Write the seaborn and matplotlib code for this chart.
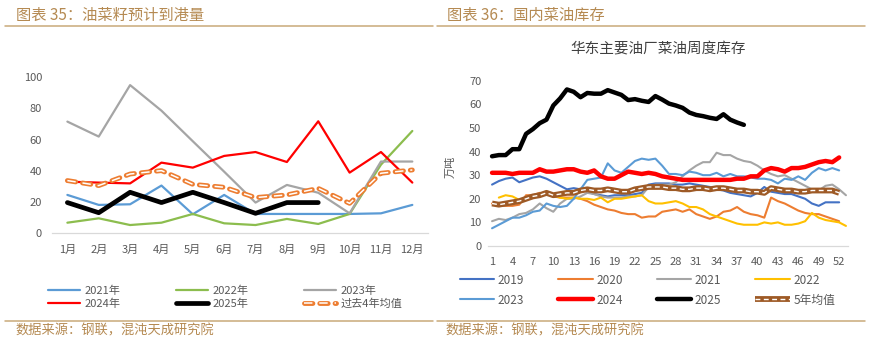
import numpy as np
import matplotlib
matplotlib.use("Agg")
import matplotlib.pyplot as plt
import matplotlib.patheffects as pe
from matplotlib.lines import Line2D
import seaborn as sns

nan = np.nan

# ---------------- left chart data: 油菜籽预计到港量 ----------------
months = ["1月", "2月", "3月", "4月", "5月", "6月", "7月", "8月", "9月", "10月", "11月", "12月"]
arr_2021 = [24.6, 18.2, 18.6, 30.6, 12.2, 24.6, 12.4, 12.4, 12.4, 12.4, 12.8, 18.2]
arr_2022 = [6.8, 9.6, 5.3, 6.8, 12.4, 6.4, 5.3, 9.2, 6.0, 12.4, 44.0, 65.6]
arr_2023 = [71.6, 62.0, 95.0, 78.6, 59.0, 39.5, 19.7, 31.0, 26.0, 12.8, 46.0, 46.0]
arr_2024 = [33.1, 32.5, 32.0, 45.3, 42.1, 49.6, 52.1, 45.7, 71.8, 38.9, 52.1, 32.5]
arr_2025 = [19.7, 13.2, 26.3, 19.7, 26.3, 19.7, 12.8, 19.7, 19.7, nan, nan, nan]
arr_avg4 = [33.8, 30.6, 38.0, 40.2, 31.4, 29.5, 22.9, 24.6, 28.8, 19.2, 38.5, 40.6]

# ---------------- right chart data: 华东主要油厂菜油周度库存 (万吨) ----------------
week_tick_labels = [str(w) for w in range(1, 53, 3)]
inv_2019 = [26, 27.5, 28.5, 29, 27, 28, 29, 29.5, 28.5, 27,
            25.5, 24, 24.5, 24, 23, 22, 21.5, 21, 21.5, 21.5,
            21.5, 22, 22.5, 26, 26.5, 26.5, 26.5, 26, 26, 26.5,
            26, 25.5, 25, 24, 23.5, 22.5, 22, 21.5, 21, 22.5,
            25, 23, 22.5, 22, 22, 21, 20, 18, 17, 18.5,
            18.5, 18.5, nan]
inv_2020 = [18, 17, 17, 17, 17.5, 21.5, 21.5, 22.5, 22, 21,
            20.5, 20.5, 20.5, 20, 19, 17.5, 16.5, 15.5, 15, 14,
            13.5, 13.5, 12, 12.5, 12.5, 14.5, 15, 15.5, 14.5, 15.5,
            13.5, 12.5, 11.5, 12.5, 14.5, 15, 16.5, 14.5, 13.5, 13,
            12, 20.5, 19, 18, 16.5, 15, 14, 13.5, 13.5, 12.5,
            11.5, 10.5, nan]
inv_2021 = [10.5, 11.5, 11, 12, 13.5, 14, 15.5, 18, 16, 14.5,
            18, 20, 20, 21, 22.5, 22, 21, 20.5, 20.5, 20.5,
            21, 21, 21.5, 25, 26, 26, 26, 27, 29.5, 32,
            34, 35.5, 35.5, 39.5, 38.5, 38.5, 37, 36, 35.5, 34,
            32, 30.5, 29.5, 30, 28.5, 27, 25.5, 24, 23.5, 25.5,
            26, 24, 21.5]
inv_2022 = [nan, 20.5, 21.5, 21, 19.5, 20.5, 21.5, 21.5, 23, 21.5,
            20.5, 20, 20.5, 20, 20, 19.5, 20.5, 18.5, 20, 20,
            20.5, 21, 21.5, 19, 18, 18, 18.5, 19, 18, 16.5,
            16.5, 15.5, 13.5, 12.5, 11.5, 10.5, 9.5, 9, 9, 9,
            10, 9.5, 10, 9, 9, 9.5, 10.5, 14, 12, 11,
            10.5, 10, 8.5]
inv_2023 = [7.5, 9, 10.5, 12, 12, 13, 14.5, 15, 18, 17,
            16.5, 17, 20, 24, 28, 28.5, 29, 35, 32, 31,
            33.5, 36, 37, 36.5, 37, 34, 30.5, 30.5, 30, 31.5,
            31, 30, 30, 31, 29.5, 30.5, 29.5, 29.5, 29, 28.5,
            28.5, 28, 26.5, 28.5, 28, 29.5, 28, 31, 33, 32,
            33, 32, nan]
inv_2024 = [31, 31, 31, 30.5, 31, 31, 31, 32.5, 31.5, 31.5,
            32, 32.5, 32.5, 31.5, 31, 32, 29.5, 28.5, 28.5, 30,
            31.5, 31, 30.5, 31, 30.5, 29.5, 29, 28.5, 28, 28,
            28, 28, 28, 28, 28, 28, 28.5, 28.5, 29.5, 29.5,
            32, 33, 32.5, 31.5, 33, 33, 33.5, 34.5, 35.5, 36,
            35.5, 37.5, nan]
inv_2025 = [38, 38.5, 38.5, 41, 41, 47.5, 49.5, 52, 53.5, 59.5,
            62.5, 66.3, 65.3, 63, 64.8, 64.5, 64.5, 66, 65, 64,
            61.8, 62.2, 61.5, 61, 63.5, 62, 60.3, 59.5, 58.5, 56.5,
            55.5, 55, 54.3, 53.8, 55.8, 53.5, 52.3, 51.3] + [nan] * 15
inv_avg5 = [18, 17.5, 18, 18.5, 19, 20, 21, 21.5, 22.5, 21.5,
            22, 22.5, 22.5, 23.5, 24, 23.5, 23.5, 24, 23.5, 23,
            23, 24, 24.5, 25, 25, 25, 24.5, 24.5, 24, 24,
            24.5, 24.5, 24, 24.5, 24.5, 24, 23.5, 23.5, 23, 23,
            22.5, 24.5, 24, 23.5, 23.5, 23, 23, 23.5, 23.5, 23.5,
            23.5, 22.5, nan]

# ---------------- style ----------------
sns.set_theme(style="white")
plt.rcParams["font.family"] = ["Noto Sans CJK SC", "DejaVu Sans"]
plt.rcParams["axes.unicode_minus"] = False

GOLD = "#B58A52"
RULE = "#C9A979"
TICK = "#595959"
W, H = 871, 338


class SolidStroke(pe.Stroke):
    """Stroke drawn solid regardless of the line's dash pattern."""
    def draw_path(self, renderer, gc, tpath, affine, rgbFace=None):
        gc0 = renderer.new_gc()
        gc0.copy_properties(gc)
        gc0.set_dashes(0, None)
        gc0 = self._update_gc(gc0, self._gc)
        renderer.draw_path(gc0, tpath, affine, rgbFace)
        gc0.restore()


def fx(px):
    return px / W


def fy(py):
    return 1 - py / H


fig = plt.figure(figsize=(W / 100, H / 100), dpi=100)
fig.patch.set_facecolor("white")

# ================= left chart =================
ax1 = fig.add_axes([fx(51.7), fy(233.3), fx(428) - fx(51.7), fy(77.3) - fy(233.3)])
mx = list(range(1, len(months) + 1))
left_series = [
    ("2021年", arr_2021, "#5B9BD5", 1.6),
    ("2022年", arr_2022, "#8CBD4E", 1.6),
    ("2023年", arr_2023, "#A5A5A5", 1.6),
    ("2024年", arr_2024, "#FF0000", 1.6),
    ("2025年", arr_2025, "#000000", 3.4),
]
lh = {}
for lab, vals, col, lw in left_series:
    sns.lineplot(x=mx, y=vals, ax=ax1, color=col, linewidth=lw, label=lab,
                 estimator=None, errorbar=None)
    lh[lab] = ax1.lines[-1]
sns.lineplot(x=mx, y=arr_avg4, ax=ax1, color="white", linewidth=1.1, label="过去4年均值",
             estimator=None, errorbar=None)
ln = ax1.lines[-1]
ln.set_dashes((5.5, 4.5))
ln.set_dash_capstyle("butt")
ln.set_path_effects([pe.Stroke(linewidth=3.5, foreground="#ED7D31", capstyle="round"), pe.Normal()])
lh["过去4年均值"] = ln
ax1.get_legend().remove()

ax1.set_xlim(0.5, 12.5)
ax1.set_ylim(0, 100)
ax1.set_xticks(mx)
ax1.set_xticklabels(months)
ax1.set_yticks([0, 20, 40, 60, 80, 100])
ax1.tick_params(axis="both", length=0, labelsize=8, colors=TICK)
ax1.tick_params(axis="x", pad=8.0)
ax1.tick_params(axis="y", pad=7.0)
ax1.set_xlabel("")
ax1.set_ylabel("")
for s in ["left", "right", "top"]:
    ax1.spines[s].set_visible(False)
ax1.spines["bottom"].set_color("#D9D9D9")
ax1.spines["bottom"].set_linewidth(0.9)
ax1.grid(False)

order1 = ["2021年", "2024年", "2022年", "2025年", "2023年", "过去4年均值"]
fig.legend([lh[k] for k in order1], order1, loc="upper left",
           bbox_to_anchor=(fx(47.7), fy(285.5)), ncol=3, frameon=False, fontsize=8,
           handlelength=2.9, handletextpad=0.4, columnspacing=5.0, labelspacing=0.25,
           borderpad=0, borderaxespad=0, labelcolor=TICK)

# ================= right chart =================
ax2 = fig.add_axes([fx(488.3), fy(246), fx(848) - fx(488.3), fy(80.7) - fy(246)])
wk = list(range(1, len(inv_2019) + 1))
right_series = [
    ("2019", inv_2019, "#4472C4", 1.5),
    ("2020", inv_2020, "#ED7D31", 1.5),
    ("2021", inv_2021, "#A5A5A5", 1.5),
    ("2022", inv_2022, "#FFC000", 1.5),
    ("2023", inv_2023, "#5B9BD5", 1.5),
    ("2024", inv_2024, "#FF0000", 3.2),
    ("2025", inv_2025, "#000000", 3.2),
]
rh = {}
for lab, vals, col, lw in right_series:
    sns.lineplot(x=wk, y=vals, ax=ax2, color=col, linewidth=lw, label=lab,
                 estimator=None, errorbar=None)
    rh[lab] = ax2.lines[-1]
sns.lineplot(x=wk, y=inv_avg5, ax=ax2, color="white", linewidth=1.0, label="5年均值",
             estimator=None, errorbar=None)
ln = ax2.lines[-1]
ln.set_dashes((3.5, 2.5))
ln.set_path_effects([SolidStroke(linewidth=4.2, foreground="#9E5A26"), pe.Normal()])
rh["5年均值"] = ln
for k in ["2024", "2025"]:
    rh[k].set_zorder(3)
ax2.get_legend().remove()

ax2.set_xlim(0.45, 53.3)
ax2.set_ylim(0, 70)
ax2.set_xticks(list(range(1, 53, 3)))
ax2.set_xticklabels(week_tick_labels)
ax2.set_yticks(list(range(0, 71, 10)))
ax2.tick_params(axis="both", length=0, labelsize=8, colors=TICK)
ax2.tick_params(axis="x", pad=8.0)
ax2.tick_params(axis="y", pad=5.0)
ax2.set_xlabel("")
ax2.set_ylabel("万吨", fontsize=8, color=TICK)
ax2.yaxis.set_label_coords((455.7 - 488.3) / (848 - 488.3), 0.478)
for s in ["left", "right", "top"]:
    ax2.spines[s].set_visible(False)
ax2.spines["bottom"].set_color("#D9D9D9")
ax2.spines["bottom"].set_linewidth(0.9)
ax2.grid(False)

fig.text(fx(658.3), fy(49.3), "华东主要油厂菜油周度库存", ha="center", va="center",
         fontsize=10.5, color="#404040")

order2 = ["2019", "2023", "2020", "2024", "2021", "2025", "2022", "5年均值"]
fig.legend([rh[k] for k in order2], order2, loc="upper left",
           bbox_to_anchor=(fx(460), fy(273.5)), ncol=4, frameon=False, fontsize=8.5,
           handlelength=2.9, handletextpad=0.3, columnspacing=2.9, labelspacing=0.6,
           borderpad=0, borderaxespad=0, labelcolor=TICK)

# ================= headers, rules and footers =================
fig.text(fx(16), fy(15), "图表 35：油菜籽预计到港量", ha="left", va="center",
         fontsize=11, color=GOLD)
fig.text(fx(446.7), fy(15), "图表 36：国内菜油库存", ha="left", va="center",
         fontsize=11, color=GOLD)
for x0, x1 in [(5, 433), (437, 865)]:
    fig.add_artist(Line2D([fx(x0), fx(x1)], [fy(25.7), fy(25.7)], color=RULE, lw=1.1))
    fig.add_artist(Line2D([fx(x0), fx(x1)], [fy(320.5), fy(320.5)], color=RULE, lw=1.1))
fig.text(fx(15), fy(331), "数据来源：钢联，混沌天成研究院", ha="left", va="center",
         fontsize=9.5, color=GOLD)
fig.text(fx(445), fy(331), "数据来源：钢联，混沌天成研究院", ha="left", va="center",
         fontsize=9.5, color=GOLD)

fig.savefig("out.png", dpi=100, facecolor="white")
